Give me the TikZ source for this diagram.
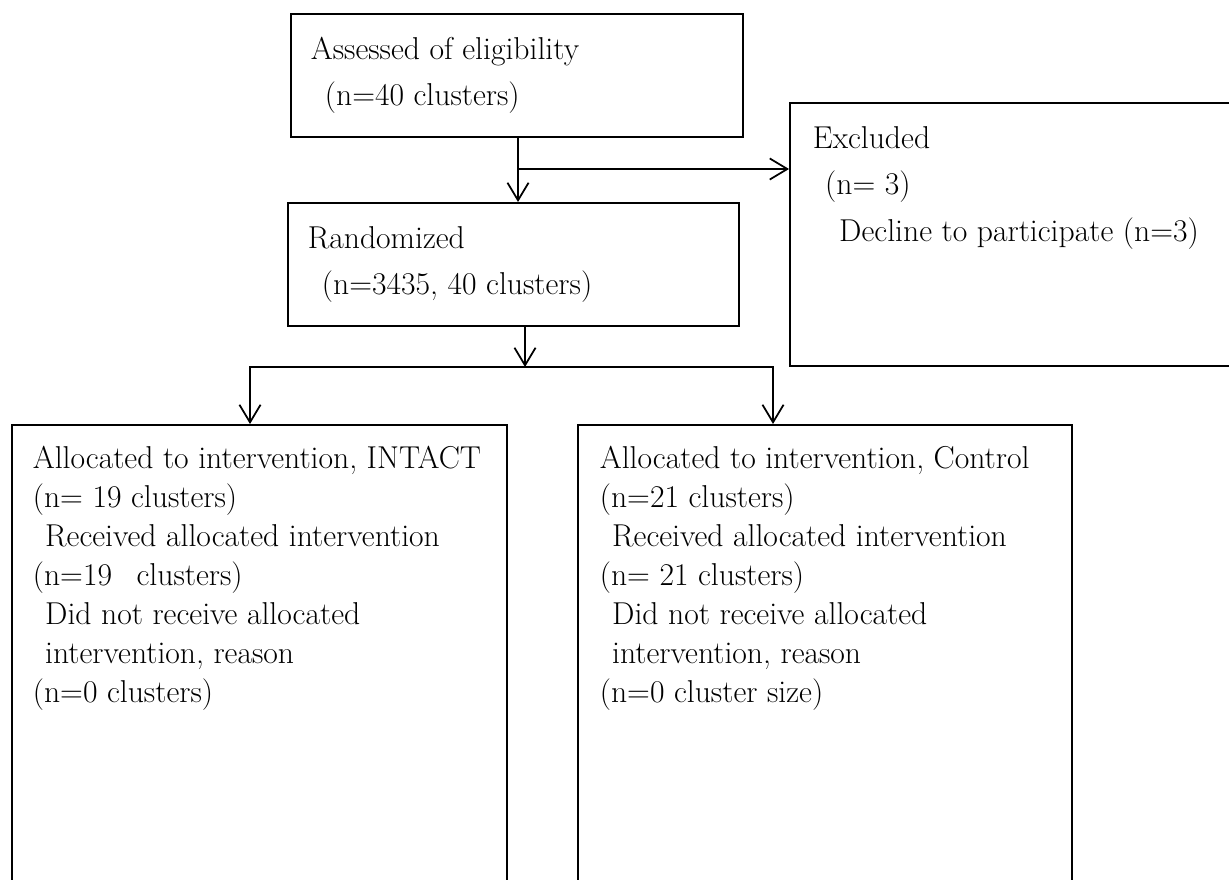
\documentclass[tikz,border=0pt]{standalone}
\usetikzlibrary{arrows.meta}
\newcommand{\upperfont}{\fontsize{18}{26.7}\selectfont}
\newcommand{\lowerfont}{\fontsize{18}{22.2}\selectfont}
\begin{document}
\begin{tikzpicture}[x=0.02cm, y=-0.02cm, line width=1pt,
box/.style={draw, anchor=north west, inner sep=0pt},
txt/.style={anchor=base west, inner sep=0pt},
arrow/.style={-{Straight Barb[length=10pt,width=12pt]}},
twoway/.style={{Straight Barb[length=10pt,width=12pt]}-{Straight Barb[length=10pt,width=12pt]}}]
\useasboundingbox (0,0) rectangle (1229,879);
% boxes
\node[box, minimum width=9.04cm, minimum height=2.46cm] (assess) at (290,13) {};
\node[box, minimum width=9.02cm, minimum height=2.46cm] (random) at (287,202) {};
\node[box, minimum width=9.2cm, minimum height=5.26cm] (excl) at (789,102) {};
\node[box, minimum width=9.9cm, minimum height=9.6cm] (intact) at (11,424) {};
\node[box, minimum width=9.88cm, minimum height=9.6cm] (control) at (577,424) {};
% texts
\node[txt] (assess-t) at ([shift={(20,46)}]assess.north west)
{\upperfont\begin{tabular}[t]{@{}l@{}}
Assessed of eligibility\\
\hspace*{8pt}(n=40 clusters)
\end{tabular}};
\node[txt] (random-t) at ([shift={(20,46)}]random.north west)
{\upperfont\begin{tabular}[t]{@{}l@{}}
Randomized\\
\hspace*{8pt}(n=3435, 40 clusters)
\end{tabular}};
\node[txt] (excl-t) at ([shift={(23,46)}]excl.north west)
{\upperfont\begin{tabular}[t]{@{}l@{}}
Excluded\\
\hspace*{7pt}(n= 3)\\
\hspace*{15pt}Decline to participate (n=3)
\end{tabular}};
\node[txt] (intact-t) at ([shift={(21,44)}]intact.north west)
{\lowerfont\begin{tabular}[t]{@{}l@{}}
Allocated to intervention, INTACT\\
(n= 19 clusters)\\
\hspace*{7pt}Received allocated intervention\\
(n=19\hspace{14pt}clusters)\\
\hspace*{7pt}Did not receive allocated\\
\hspace*{7pt}intervention, reason\\
(n=0 clusters)
\end{tabular}};
\node[txt] (control-t) at ([shift={(22,44)}]control.north west)
{\lowerfont\begin{tabular}[t]{@{}l@{}}
Allocated to intervention, Control\\
(n=21 clusters)\\
\hspace*{7pt}Received allocated intervention\\
(n= 21 clusters)\\
\hspace*{7pt}Did not receive allocated\\
\hspace*{7pt}intervention, reason\\
(n=0 cluster size)
\end{tabular}};
% connectors
\coordinate (split) at (518,169);
\coordinate (fork) at (525,367);
\coordinate (leftend) at (250,367);
\coordinate (rightend) at (773,367);
\draw[arrow] (split |- assess.south) -- (split |- random.north);
\draw[arrow] (split) -- (split -| excl.west);
\draw[arrow] (fork |- random.south) -- (fork);
\draw[twoway] (leftend |- intact.north) -- (leftend) -- (rightend) -- (rightend |- control.north);
\end{tikzpicture}
\end{document}
